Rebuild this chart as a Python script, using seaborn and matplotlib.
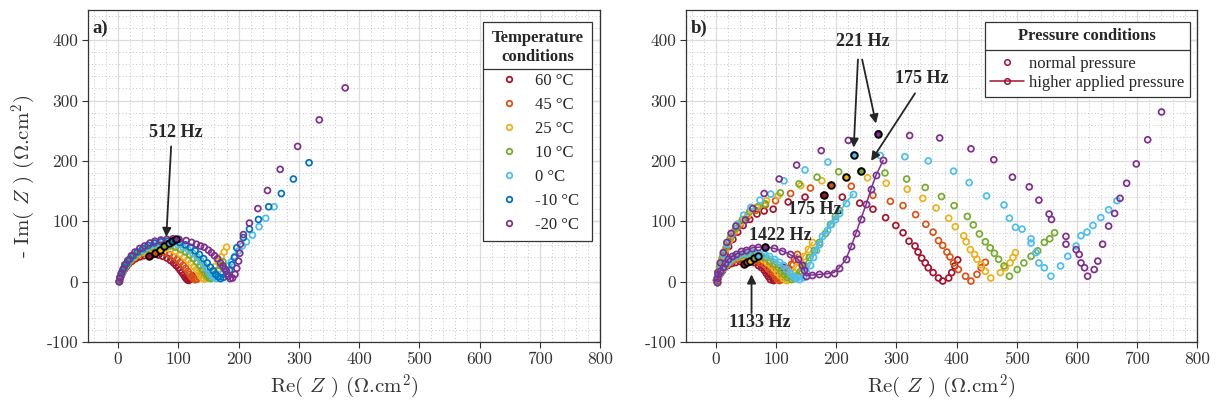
import numpy as np
import pandas as pd
import seaborn as sns
import matplotlib.pyplot as plt
from matplotlib.lines import Line2D
from matplotlib.ticker import MultipleLocator

# series labels and MATLAB-like colours
temps = ['60 °C', '45 °C', '25 °C', '10 °C', '0 °C', '-10 °C', '-20 °C']
colors = ['#A2142F', '#D95319', '#EDB120', '#77AC30', '#4DBEEE', '#0072BD', '#7E2F8E']

# ---- panel a: temperature conditions, (Re, -Im) pairs
a60 = [(2, 0), (3, 4), (4, 8), (6, 12), (8, 16), (11, 21), (14, 25), (18, 30), (23, 34), (29, 38),
       (36, 41), (43, 43), (51, 44), (59, 45), (67, 44), (74, 42), (81, 39), (87, 35), (92, 31), (96, 27),
       (100, 23), (103, 19), (106, 15), (109, 11), (111, 8), (113, 5), (115, 3), (117, 2), (119, 4),
       (121, 7), (123, 10)]
a45 = [(2, 0), (3, 5), (5, 10), (7, 15), (10, 20), (13, 25), (17, 30), (22, 35), (28, 40), (35, 44),
       (43, 47), (52, 49), (61, 50), (69, 50), (77, 48), (85, 45), (92, 41), (98, 37), (103, 32), (108, 27),
       (112, 22), (116, 17), (119, 12), (122, 8), (125, 5), (128, 3), (131, 4), (134, 8), (137, 12), (140, 17)]
a25 = [(2, 0), (3, 6), (5, 11), (8, 17), (11, 23), (15, 29), (20, 35), (26, 40), (33, 45), (41, 49),
       (50, 52), (60, 54), (69, 55), (78, 55), (87, 53), (95, 50), (103, 46), (110, 41), (116, 36), (121, 31),
       (126, 25), (130, 20), (134, 15), (137, 10), (140, 6), (143, 4), (147, 6), (151, 10), (156, 17),
       (161, 25), (166, 33), (171, 41), (176, 49), (180, 57)]
a10 = [(2, 0), (3, 6), (6, 13), (9, 19), (12, 25), (17, 32), (22, 38), (29, 44), (37, 49), (46, 54),
       (56, 57), (66, 59), (76, 60), (86, 59), (95, 57), (104, 53), (112, 49), (119, 44), (125, 38), (131, 32),
       (136, 26), (140, 20), (144, 14), (148, 9), (151, 6), (154, 5), (158, 8), (162, 13), (166, 19),
       (170, 26), (174, 33)]
a0 = [(2, 0), (3, 7), (6, 14), (9, 21), (13, 28), (18, 35), (24, 41), (31, 47), (39, 52), (48, 57),
      (58, 61), (68, 63), (79, 64), (89, 63), (99, 61), (108, 57), (116, 53), (124, 47), (131, 41), (137, 35),
      (142, 28), (147, 22), (151, 16), (155, 11), (159, 7), (163, 5), (168, 8), (173, 13), (178, 19),
      (183, 26), (188, 33), (194, 42), (200, 51), (206, 59), (213, 66), (223, 77), (234, 91), (245, 105),
      (259, 124)]
am10 = [(2, 0), (4, 8), (6, 15), (10, 23), (14, 30), (19, 37), (25, 43), (32, 49), (41, 55), (50, 60),
        (60, 64), (71, 66), (82, 67), (92, 67), (102, 65), (112, 61), (120, 57), (128, 51), (135, 45), (142, 38),
        (148, 31), (153, 24), (158, 18), (162, 12), (166, 8), (170, 5), (175, 7), (180, 12), (185, 19),
        (189, 28), (193, 40), (197, 56), (208, 73), (218, 87), (233, 103), (250, 124), (271, 146),
        (291, 170), (317, 197)]
am20 = [(2, 0), (3, 6), (5, 13), (8, 20), (11, 28), (16, 35), (22, 43), (28, 49), (36, 55), (44, 59),
        (53, 64), (61, 67), (71, 69), (81, 70), (91, 71), (101, 70), (113, 68), (122, 65), (130, 62), (137, 59),
        (143, 57), (150, 52), (155, 48), (160, 43), (165, 38), (170, 31), (174, 26), (177, 21), (180, 17),
        (183, 9), (186, 5), (190, 6), (194, 12), (197, 22), (200, 34), (202, 47), (203, 62), (208, 78),
        (218, 97), (232, 121), (248, 151), (269, 186), (298, 224), (334, 268), (377, 321)]
a_512_x = [51, 61, 69, 76, 84, 90, 96]
a_512_y = [42, 48, 53, 59, 64, 67, 70]

# ---- panel b: normal pressure (no -10 °C series)
b_temps = ['60 °C', '45 °C', '25 °C', '10 °C', '0 °C', '-20 °C']
b_colors = ['#A2142F', '#D95319', '#EDB120', '#77AC30', '#4DBEEE', '#7E2F8E']
bn60 = [(1, 2), (3, 10), (6, 20), (10, 32), (15, 45), (21, 58), (28, 70), (36, 82), (45, 93), (56, 103),
        (68, 112), (80, 117), (95, 120), (120, 132), (148, 140), (179, 143), (210, 140), (239, 130),
        (261, 120), (282, 106), (299, 93), (311, 81), (321, 67), (331, 59), (336, 49), (342, 39), (348, 31),
        (353, 23), (361, 15), (370, 6), (377, 1), (387, 6), (392, 15), (397, 26), (402, 36)]
bn45 = [(1, 2), (3, 11), (6, 23), (10, 37), (15, 51), (22, 66), (30, 80), (40, 94), (52, 107), (66, 118),
        (82, 127), (99, 134), (124, 146), (157, 155), (191, 160), (225, 158), (261, 143), (290, 133),
        (311, 126), (332, 111), (349, 95), (361, 82), (370, 68), (377, 60), (384, 49), (389, 41), (395, 31),
        (403, 20), (415, 9), (424, 1), (434, 12), (441, 23), (448, 32)]
bn25 = [(1, 2), (3, 12), (6, 25), (10, 39), (16, 54), (23, 69), (31, 84), (41, 98), (53, 111), (67, 123),
        (84, 134), (103, 142), (141, 159), (176, 167), (216, 173), (252, 172), (283, 163), (318, 153),
        (344, 138), (366, 122), (387, 105), (398, 91), (412, 76), (416, 66), (423, 53), (430, 45), (434, 37),
        (441, 28), (448, 17), (457, 6), (473, 15), (481, 23), (489, 31), (494, 40), (498, 48)]
bn10 = [(1, 2), (3, 12), (6, 26), (11, 41), (17, 57), (24, 73), (33, 88), (44, 103), (56, 116), (70, 124),
        (82, 129), (107, 147), (138, 162), (168, 173), (204, 182), (241, 183), (281, 180), (317, 170),
        (348, 156), (375, 141), (396, 126), (418, 108), (428, 94), (438, 79), (448, 66), (456, 56), (463, 47),
        (470, 37), (479, 26), (488, 9), (501, 20), (512, 31), (524, 42), (535, 51), (546, 65), (555, 71),
        (563, 81)]
bn0 = [(1, 3), (3, 14), (7, 29), (12, 45), (18, 62), (26, 79), (35, 95), (46, 110), (58, 123), (73, 135),
       (91, 145), (113, 167), (148, 185), (186, 198), (229, 210), (273, 209), (314, 207), (353, 200),
       (395, 183), (421, 164), (450, 142), (479, 127), (488, 105), (498, 90), (509, 87), (524, 71), (524, 64),
       (532, 48), (537, 31), (546, 23), (557, 9), (573, 26), (585, 42), (599, 59), (607, 76), (617, 82),
       (627, 93), (640, 106), (653, 119), (667, 134)]
bnm20 = [(1, 3), (3, 15), (7, 31), (12, 48), (18, 65), (25, 80), (33, 92), (49, 102), (61, 121), (80, 146),
         (105, 170), (134, 193), (175, 217), (220, 234), (270, 245), (322, 242), (372, 238), (424, 220),
         (462, 202), (493, 173), (521, 157), (537, 135), (554, 112), (558, 103), (582, 75), (582, 62),
         (599, 53), (604, 45), (607, 31), (613, 23), (618, 9), (629, 20), (635, 34), (643, 62), (653, 92),
         (663, 113), (672, 138), (683, 163), (699, 195), (718, 235), (741, 281)]

# ---- panel b: higher applied pressure
bp60 = [(1, 0), (2, 5), (4, 10), (7, 15), (10, 20), (14, 24), (19, 28), (25, 31), (32, 33), (40, 34),
        (48, 35), (56, 34), (63, 32), (69, 28), (74, 24), (79, 19), (83, 14), (87, 9), (90, 5), (94, 2),
        (97, 4), (100, 8), (104, 13), (108, 19), (112, 25)]
bp45 = [(1, 0), (2, 5), (4, 11), (7, 16), (10, 21), (14, 26), (19, 30), (25, 34), (32, 37), (40, 38),
        (49, 39), (58, 38), (66, 36), (73, 33), (79, 29), (85, 24), (90, 19), (94, 14), (98, 9), (101, 5),
        (105, 2), (108, 4), (112, 9), (116, 15), (120, 22), (124, 30), (129, 37), (135, 45)]
bp25 = [(1, 0), (2, 6), (4, 12), (7, 17), (11, 23), (15, 28), (20, 33), (27, 37), (34, 40), (43, 42),
        (52, 43), (61, 42), (70, 40), (78, 37), (85, 33), (91, 28), (97, 22), (102, 16), (107, 11), (111, 6),
        (116, 3), (120, 5), (124, 10), (128, 16), (133, 24), (139, 33), (146, 43), (153, 54), (160, 65)]
bp10 = [(1, 0), (2, 6), (5, 13), (8, 19), (12, 25), (16, 30), (22, 35), (29, 39), (37, 43), (46, 45),
        (55, 46), (65, 45), (74, 43), (82, 40), (90, 35), (97, 30), (103, 24), (108, 18), (113, 12), (118, 7),
        (124, 4), (129, 6), (134, 11), (140, 18), (147, 28), (155, 40), (163, 52), (172, 65), (181, 80),
        (190, 95), (198, 108), (205, 118)]
bp0 = [(1, 0), (2, 7), (5, 14), (9, 21), (13, 27), (18, 33), (24, 38), (31, 43), (40, 46), (49, 48),
       (59, 49), (69, 48), (79, 46), (88, 43), (96, 38), (104, 33), (111, 27), (117, 21), (123, 15), (128, 10),
       (133, 6), (138, 4), (144, 8), (150, 16), (156, 28), (161, 40), (166, 52), (171, 62), (177, 75),
       (184, 86), (191, 95), (198, 104), (205, 114), (216, 131), (228, 145)]
bpm20 = [(1, 0), (2, 6), (4, 12), (7, 18), (11, 25), (15, 31), (20, 37), (27, 42), (34, 46), (42, 50),
         (50, 53), (60, 56), (70, 57), (82, 58), (97, 55), (110, 51), (123, 45), (136, 37), (143, 28),
         (147, 19), (150, 10), (160, 11), (172, 12), (184, 13), (196, 15), (205, 23), (216, 37), (225, 59),
         (233, 81), (241, 104), (250, 129), (258, 154), (266, 176), (278, 201)]

# highlighted frequencies in panel b
b_175_x = [179, 191, 216, 241]
b_175_y = [143, 160, 173, 183]
b_221_x = [229, 270]
b_221_y = [210, 245]
b_1133_x = [46, 51, 57, 63, 69]
b_1133_y = [30, 32, 35, 39, 42]
b_1422_x = [82]
b_1422_y = [58]

sns.set_style('whitegrid')
plt.rcParams['font.family'] = ['Liberation Serif', 'DejaVu Serif']
plt.rcParams['mathtext.fontset'] = 'cm'
plt.rcParams['axes.unicode_minus'] = False

fig = plt.figure(figsize=(12.2, 4.07), dpi=100)
ax_a = fig.add_axes([88 / 1220, 65 / 407, 512 / 1220, 332 / 407])
ax_b = fig.add_axes([686 / 1220, 65 / 407, 511 / 1220, 332 / 407])

MS = 18
MEW = 1.25


def open_points(ax, pts, c, z=2):
    x, y = zip(*pts)
    sns.scatterplot(x=list(x), y=list(y), ax=ax, marker='o', s=MS, facecolor='none',
                    edgecolor=c, linewidth=MEW, zorder=z)


def ringed(ax, xs, ys, cs):
    for x, y, c in zip(xs, ys, cs):
        sns.scatterplot(x=[x], y=[y], ax=ax, marker='o', s=MS + 4, facecolor=c,
                        edgecolor='black', linewidth=1.4, zorder=6)


def style_axes(ax):
    ax.set_xlim(-50, 800)
    ax.set_ylim(-100, 450)
    ax.xaxis.set_major_locator(MultipleLocator(100))
    ax.yaxis.set_major_locator(MultipleLocator(100))
    ax.xaxis.set_minor_locator(MultipleLocator(20))
    ax.yaxis.set_minor_locator(MultipleLocator(20))
    ax.grid(which='major', color='#dcdcdc', lw=0.9, ls='-')
    ax.grid(which='minor', color='#c4c4c4', lw=0.7, ls=(0, (1, 2.5)))
    ax.set_axisbelow(True)
    for s in ax.spines.values():
        s.set_visible(True)
        s.set_color('#333333')
        s.set_linewidth(0.9)
    ax.tick_params(which='major', direction='out', length=4, width=0.8, color='#333333',
                   labelsize=12.5, labelcolor='#333333', labelfontfamily='cmr10', pad=3,
                   bottom=True, left=True)
    ax.tick_params(which='minor', length=0)
    sec = ax.secondary_yaxis('right')
    sec.yaxis.set_major_locator(MultipleLocator(100))
    sec.tick_params(direction='in', length=4, width=0.8, color='#333333', labelright=False)
    sec.spines['right'].set_color('#333333')
    ax.set_xlabel(r'Re( $Z$ ) ($\Omega$.cm$^2$)', fontfamily='cmr10', fontsize=15,
                  color='#333333', labelpad=4)


# ---- panel a
a_series = [a60, a45, a25, a10, a0, am10, am20]
for pts, c in zip(a_series, colors):
    open_points(ax_a, pts, c)
ringed(ax_a, a_512_x, a_512_y, colors)
style_axes(ax_a)
ax_a.set_ylabel(r'- Im( $Z$ ) ($\Omega$.cm$^2$)', fontfamily='cmr10', fontsize=15,
                color='#333333', labelpad=6)

arrow = dict(arrowstyle='-|>', color='#262626', lw=1.3, mutation_scale=13, shrinkA=0, shrinkB=0)
ax_a.text(95, 247, '512 Hz', ha='center', va='center', fontweight='bold', fontsize=13)
ax_a.annotate('', xy=(80, 74), xytext=(88, 224), arrowprops=arrow)
ax_a.text(-42, 420, 'a)', ha='left', va='center', fontweight='bold', fontsize=13.5)

temp_handles = [Line2D([], [], ls='none', marker='o', ms=4, mfc='none', mec=c, mew=1.3) for c in colors]
leg_a = ax_a.legend(temp_handles, temps, title='Temperature\nconditions', loc='upper right',
                    bbox_to_anchor=(0.984, 0.964), frameon=True, fancybox=False, edgecolor='#333333',
                    framealpha=1, fontsize=12, title_fontproperties={'weight': 'bold', 'size': 12},
                    labelspacing=0.48, handletextpad=0.8, borderpad=0.5, handlelength=1.6,
                    borderaxespad=0)
leg_a.get_title().set_multialignment('center')
leg_a.get_frame().set_linewidth(0.9)

# ---- panel b
bn_series = [bn60, bn45, bn25, bn10, bn0, bnm20]
bp_series = [bp60, bp45, bp25, bp10, bp0, bpm20]
for pts, c in zip(bn_series, b_colors):
    open_points(ax_b, pts, c)
for pts, c in zip(bp_series, b_colors):
    x, y = zip(*pts)
    sns.lineplot(x=list(x), y=list(y), ax=ax_b, sort=False, estimator=None, color=c, lw=1.1,
                 marker='o', markersize=4.4, markerfacecolor='none', markeredgecolor=c,
                 markeredgewidth=MEW, zorder=3)
ringed(ax_b, b_175_x, b_175_y, b_colors[:4])
ringed(ax_b, b_221_x, b_221_y, [b_colors[4], b_colors[5]])
ringed(ax_b, b_1133_x, b_1133_y, b_colors[:5])
ringed(ax_b, b_1422_x, b_1422_y, [b_colors[5]])
style_axes(ax_b)

ax_b.text(244, 398, '221 Hz', ha='center', va='center', fontweight='bold', fontsize=13)
ax_b.annotate('', xy=(229, 222), xytext=(236, 368), arrowprops=arrow)
ax_b.annotate('', xy=(266, 262), xytext=(243, 368), arrowprops=arrow)
ax_b.text(342, 337, '175 Hz', ha='center', va='center', fontweight='bold', fontsize=13)
ax_b.annotate('', xy=(258, 200), xytext=(331, 312), arrowprops=arrow)
ax_b.text(164, 120, '175 Hz', ha='center', va='center', fontweight='bold', fontsize=13)
ax_b.text(107, 77, '1422 Hz', ha='center', va='center', fontweight='bold', fontsize=13)
ax_b.text(72, -67, '1133 Hz', ha='center', va='center', fontweight='bold', fontsize=13)
ax_b.annotate('', xy=(59, 12), xytext=(59, -52), arrowprops=arrow)
ax_b.text(-42, 420, 'b)', ha='left', va='center', fontweight='bold', fontsize=13.5)

press_handles = [Line2D([], [], ls='none', marker='o', ms=4, mfc='none', mec=colors[0], mew=1.1),
                 Line2D([], [], color=colors[0], lw=1.1, marker='o', ms=4, mfc='none', mec=colors[0], mew=1.1)]
leg_b = ax_b.legend(press_handles, ['normal pressure', 'higher applied pressure'],
                    title='Pressure conditions', loc='upper right', bbox_to_anchor=(0.986, 0.964),
                    frameon=True, fancybox=False, edgecolor='#333333', framealpha=1, fontsize=12,
                    title_fontproperties={'weight': 'bold', 'size': 12}, labelspacing=0.15,
                    handletextpad=0.3, borderpad=0.35, handlelength=2.0, borderaxespad=0)
leg_b.get_frame().set_linewidth(0.9)
# extra room between the title and the entries
leg_b._legend_box.sep = 9

# rule under each legend title, as in the original figure
fig.canvas.draw()
rend = fig.canvas.get_renderer()
inv = fig.transFigure.inverted()
for leg in (leg_a, leg_b):
    lb = leg.get_window_extent(rend)
    tb = leg.get_title().get_window_extent(rend)
    first = leg.get_texts()[0].get_window_extent(rend)
    yy = 0.5 * (tb.y0 + first.y1)
    (x0, y0), (x1, _) = inv.transform([(lb.x0, yy), (lb.x1, yy)])
    fig.add_artist(Line2D([x0, x1], [y0, y0], color='#333333', lw=0.9, zorder=10))

fig.savefig('out.png', dpi=100)
